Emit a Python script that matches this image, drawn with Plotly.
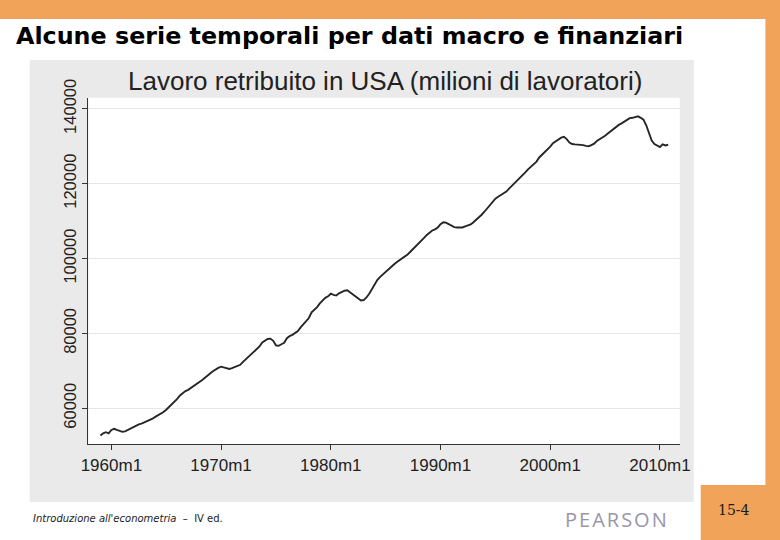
import plotly.graph_objects as go
import pandas as pd

# Quarterly payroll employment in USA (thousands of workers), 1959Q1 onwards
start_quarter = "1959Q1"
employment = [
    52700, 53300, 53600, 53300,   # 1959
    54200, 54500, 54200, 54000,   # 1960
    53700, 53800, 54200, 54600,   # 1961
    55000, 55500, 55700, 55900,   # 1962
    56200, 56500, 56800, 57200,   # 1963
    57700, 58100, 58500, 59000,   # 1964
    59600, 60300, 61000, 61700,   # 1965
    62500, 63400, 64000, 64600,   # 1966
    64900, 65400, 65800, 66300,   # 1967
    66800, 67500, 68100, 68600,   # 1968
    69300, 69900, 70400, 70800,   # 1969
    71100, 70900, 70700, 70500,   # 1970
    70700, 71000, 71300, 71600,   # 1971
    72400, 73100, 73800, 74500,   # 1972
    75300, 76000, 76500, 77600,   # 1973
    78000, 78500, 78600, 78000,   # 1974
    76800, 76700, 77100, 77500,   # 1975
    78700, 79300, 79600, 80000,   # 1976
    80600, 81600, 82500, 83300,   # 1977
    84100, 85600, 86300, 87000,   # 1978
    88000, 88800, 89500, 89900,   # 1979
    90600, 90300, 90100, 90700,   # 1980
    91100, 91400, 91500, 91000,   # 1981
    90400, 89800, 89300, 88800,   # 1982
    88900, 89600, 90600, 91900,   # 1983
    93100, 94300, 95100, 95800,   # 1984
    96500, 97200, 97700, 98400,   # 1985
    99000, 99500, 100000, 100500, # 1986
    101100, 101800, 102500, 103200,  # 1987
    104000, 104800, 105500, 106300,  # 1988
    107000, 107500, 107800, 108300,  # 1989
    109200, 109700, 109600, 109200,  # 1990
    108700, 108400, 108300, 108300,  # 1991
    108300, 108600, 108800, 109100,  # 1992
    109700, 110300, 111000, 111700,  # 1993
    112500, 113400, 114400, 115300,  # 1994
    116000, 116500, 117000, 117500,  # 1995
    117900, 118700, 119400, 120100,  # 1996
    120800, 121600, 122300, 123100,  # 1997
    123900, 124600, 125200, 125900,  # 1998
    127000, 127700, 128300, 129000,  # 1999
    129900, 130800, 131300, 131900,  # 2000
    132300, 132500, 131900, 131000,  # 2001
    130600, 130500, 130500, 130500,  # 2002
    130300, 130100, 130000, 130300,  # 2003
    130700, 131400, 131800, 132300,  # 2004
    132800, 133400, 134000, 134500,  # 2005
    135200, 135700, 136100, 136600,  # 2006
    137100, 137500, 137600, 137900,  # 2007
    138000, 137600, 137100, 135600,  # 2008
    133400, 131500, 130600, 130200,  # 2009
    129800, 130500, 130200, 130400,  # 2010
]

tick_years = [1960, 1970, 1980, 1990, 2000, 2010]
tick_labels = ["1960m1", "1970m1", "1980m1", "1990m1", "2000m1", "2010m1"]
y_ticks = [60000, 80000, 100000, 120000, 140000]

periods = pd.period_range(start_quarter, periods=len(employment), freq="Q")
x_vals = [p.year + (p.quarter - 1) / 4 for p in periods]

W, H = 780, 540
ORANGE = "#F1A35A"
GRAY = "#EAEAEA"

# layout helpers: convert target picture pixel positions into paper fractions
def px(x):
    return ((x - 6.2) / 0.98) / W

def py(y):
    return 1 - ((y - 18) / 0.9667) / H

fig = go.Figure()
fig.add_trace(go.Scatter(
    x=x_vals, y=employment, mode="lines",
    line=dict(color="#262626", width=1.9),
    hoverinfo="skip", showlegend=False,
))

shapes = [
    dict(type="rect", xref="paper", yref="paper", x0=px(28), x1=px(695), y0=py(502), y1=py(59),
         fillcolor=GRAY, line=dict(width=0), layer="below"),
    dict(type="rect", xref="paper", yref="paper", x0=px(87), x1=px(681), y0=py(444), y1=py(97),
         fillcolor="white", line=dict(width=0), layer="below"),
    dict(type="rect", xref="paper", yref="paper", x0=-0.1, x1=1.1, y0=py(18), y1=1.1,
         fillcolor=ORANGE, line=dict(width=0), layer="below"),
    dict(type="rect", xref="paper", yref="paper", x0=px(767), x1=1.1, y0=-0.1, y1=1.1,
         fillcolor=ORANGE, line=dict(width=0), layer="below"),
    dict(type="rect", xref="paper", yref="paper", x0=px(702), x1=1.1, y0=-0.1, y1=py(485),
         fillcolor=ORANGE, line=dict(width=0), layer="below"),
]

annotations = [
    dict(text="<b>Alcune serie temporali per dati macro e finanziari</b>",
         x=px(12), y=py(35), xref="paper", yref="paper", xanchor="left", yanchor="middle",
         showarrow=False, font=dict(family="DejaVu Sans", size=23.8, color="#000000")),
    dict(text="Lavoro retribuito in USA (milioni di lavoratori)",
         x=px(385), y=py(80), xref="paper", yref="paper", xanchor="center", yanchor="middle",
         showarrow=False, font=dict(family="Liberation Sans", size=26, color="#222222")),
    dict(text="<i>Introduzione all'econometria</i>  \u2013  IV ed.",
         x=px(29), y=py(518), xref="paper", yref="paper", xanchor="left", yanchor="middle",
         showarrow=False, font=dict(family="DejaVu Sans", size=10, color="#222222")),
    dict(text="P\u200aE\u200aA\u200aR\u200aS\u200aO\u200aN",
         x=px(617), y=py(519), xref="paper", yref="paper", xanchor="center", yanchor="middle",
         showarrow=False, font=dict(family="Open Sans", size=20, color="#9A96A8")),
    dict(text="15-4",
         x=px(735), y=py(510), xref="paper", yref="paper", xanchor="center", yanchor="middle",
         showarrow=False, font=dict(family="DejaVu Serif", size=14, color="#1A1A1A")),
]

fig.update_layout(
    width=W, height=H,
    margin=dict(l=0, r=0, t=0, b=0, pad=0),
    paper_bgcolor="white",
    plot_bgcolor="rgba(0,0,0,0)",
    shapes=shapes,
    annotations=annotations,
    xaxis=dict(
        domain=[px(87), px(681)],
        range=[1957.91, 2011.81],
        tickvals=tick_years, ticktext=tick_labels,
        ticks="outside", ticklen=5, tickcolor="#333333", tickwidth=1,
        showline=True, linecolor="#333333", linewidth=1,
        showgrid=False, zeroline=False,
        tickfont=dict(family="Liberation Sans", size=17, color="#222222"),
        fixedrange=True,
    ),
    yaxis=dict(
        domain=[py(444), py(97)],
        range=[50400, 142930],
        tickvals=y_ticks, ticktext=[str(v) for v in y_ticks],
        tickangle=-90,
        ticks="outside", ticklen=5, tickcolor="#333333", tickwidth=1,
        showline=True, linecolor="#333333", linewidth=1,
        showgrid=True, gridcolor="#E6E6E6", gridwidth=1,
        zeroline=False,
        tickfont=dict(family="Liberation Sans", size=16.5, color="#222222"),
        fixedrange=True,
    ),
)

post = (
    "document.documentElement.style.margin='0';"
    "document.body.style.margin='0';"
    "document.body.style.overflow='hidden';"
)

fig.write_html(
    "out.html",
    config={"displayModeBar": False},
    post_script=post,
)
